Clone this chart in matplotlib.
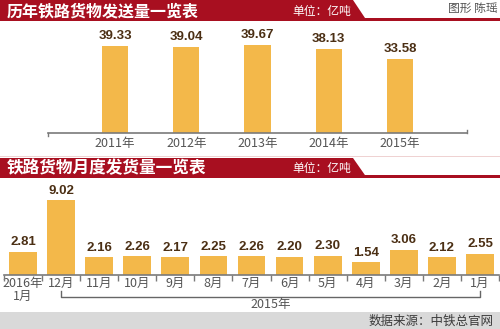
import matplotlib
matplotlib.use("Agg")
import matplotlib.pyplot as plt
from matplotlib import font_manager
from matplotlib.patches import Polygon, Rectangle

# ---- data ----
years = ["2011年", "2012年", "2013年", "2014年", "2015年"]
annual_volume = [39.33, 39.04, 39.67, 38.13, 33.58]

months = ["2016年\n1月", "12月", "11月", "10月", "9月", "8月", "7月",
          "6月", "5月", "4月", "3月", "2月", "1月"]
monthly_volume = [2.81, 9.02, 2.16, 2.26, 2.17, 2.25, 2.26,
                  2.20, 2.30, 1.54, 3.06, 2.12, 2.55]

title_top = "历年铁路货物发送量一览表"
title_bottom = "铁路货物月度发货量一览表"
unit_text = "单位：亿吨"
credit_text = "图形 陈瑶"
source_text = "数据来源：中铁总官网"
year_group = "2015年"

# ---- style ----
RED = "#a80f20"
BAR = "#f3b84a"
VAL = "#4b2f14"
GREY_TXT = "#555555"
AXIS = "#7a7a7a"
CJK = ["Noto Sans CJK SC", "DejaVu Sans"]

installed = {f.name for f in font_manager.fontManager.ttflist}
NUM_FONT = "Liberation Sans Narrow" if "Liberation Sans Narrow" in installed else "Liberation Sans"

W, H = 500, 329
fig = plt.figure(figsize=(W / 100, H / 100), dpi=100)
fig.patch.set_facecolor("white")


def px_axes(x0, y0, x1, y1, **kw):
    """Axes placed by pixel box (top-left origin)."""
    return fig.add_axes([x0 / W, 1 - y1 / H, (x1 - x0) / W, (y1 - y0) / H], **kw)


# ---- decoration layer in pixel coordinates ----
deco = px_axes(0, 0, W, H, zorder=0)
deco.set_xlim(0, W)
deco.set_ylim(H, 0)
deco.axis("off")


def header(y_top, y_bot, title, title_size):
    deco.add_patch(Polygon([(0, y_top), (353, y_top), (367, y_bot), (0, y_bot)],
                           closed=True, color=RED, lw=0))
    deco.add_patch(Rectangle((0, y_bot - 3), W, 3, color=RED, lw=0))
    deco.text(7, (y_top + y_bot) / 2 + 0.5, title, color="white", fontsize=title_size,
              fontweight="bold", family=CJK, va="center", ha="left")
    deco.text(322, (y_top + y_bot) / 2 + 0.5, unit_text, color="white", fontsize=8.5,
              family=CJK, va="center", ha="center")


header(0, 21, title_top, 11.5)
deco.add_patch(Rectangle((0, 156), W, 1.2, color="#efd2d2", lw=0))
header(158, 178, title_bottom, 12)
deco.text(498, 8, credit_text, color=GREY_TXT, fontsize=8.5, family=CJK,
          va="center", ha="right")

# footer band
deco.add_patch(Rectangle((0, 312), W, H - 312, color="#d9d9d9", lw=0))
deco.text(494, 321, source_text, color="#3c3c3c", fontsize=9, family=CJK,
          va="center", ha="right")

# ---- annual chart ----
ax1 = px_axes(48, 30, 467, 133, zorder=2)
ax1.patch.set_alpha(0)
xs1 = list(range(len(years)))
ax1.bar(xs1, annual_volume, width=0.365, color=BAR, zorder=2)
ax1.set_xlim(-0.94, 4.94)
ax1.set_ylim(0, 46.6)
for x, v in zip(xs1, annual_volume):
    ax1.annotate(f"{v:.2f}", (x, v), xytext=(0, 3), textcoords="offset points",
                 ha="center", va="bottom", fontsize=9.5, fontweight="bold",
                 color=VAL, family=NUM_FONT)
for s in ["top", "right", "left"]:
    ax1.spines[s].set_visible(False)
ax1.spines["bottom"].set_color(AXIS)
ax1.spines["bottom"].set_linewidth(1.2)
ax1.set_yticks([])
ax1.set_xticks(xs1)
ax1.set_xticklabels(years, fontsize=9, color=GREY_TXT, family=CJK)
ax1.tick_params(axis="x", length=0, pad=3)
# little end hooks on the baseline
ax1.plot([-0.94, -0.94], [0, -1.3], color=AXIS, lw=1, clip_on=False)
ax1.plot([4.94, 4.94], [0, 1.3], color=AXIS, lw=1, clip_on=False)

# ---- monthly chart ----
ax2 = px_axes(4, 190, 499, 275, zorder=2)
ax2.patch.set_alpha(0)
xs2 = list(range(len(months)))
ax2.bar(xs2, monthly_volume, width=0.73, color=BAR, zorder=2)
ax2.set_xlim(-0.5, len(months) - 0.5)
ax2.set_ylim(0, 10.24)
for x, v in zip(xs2, monthly_volume):
    ax2.annotate(f"{v:.2f}", (x, v), xytext=(0, 2.5), textcoords="offset points",
                 ha="center", va="bottom", fontsize=9.5, fontweight="bold",
                 color=VAL, family=NUM_FONT)
for s in ["top", "right", "left"]:
    ax2.spines[s].set_visible(False)
ax2.spines["bottom"].set_color(AXIS)
ax2.spines["bottom"].set_linewidth(1.2)
ax2.set_yticks([])
ax2.set_xticks(xs2)
ax2.set_xticklabels(months, fontsize=9, color=GREY_TXT, family=CJK,
                    linespacing=1.0)
ax2.tick_params(axis="x", which="major", length=0, pad=1.5)
ax2.set_xticks([i - 0.5 for i in range(len(months) + 1)], minor=True)
ax2.tick_params(axis="x", which="minor", length=4, width=1, color=AXIS)

# bracket grouping the 2015 months
bx = ax2.get_xaxis_transform()
ax2.plot([1, 1, 12, 12], [-0.19, -0.26, -0.26, -0.19], transform=bx,
         color="#666666", lw=1, clip_on=False)
ax2.text(6.5, -0.35, year_group, transform=bx, ha="center", va="center",
         fontsize=9, color=GREY_TXT, family=CJK)

fig.savefig("out.png", dpi=100)
